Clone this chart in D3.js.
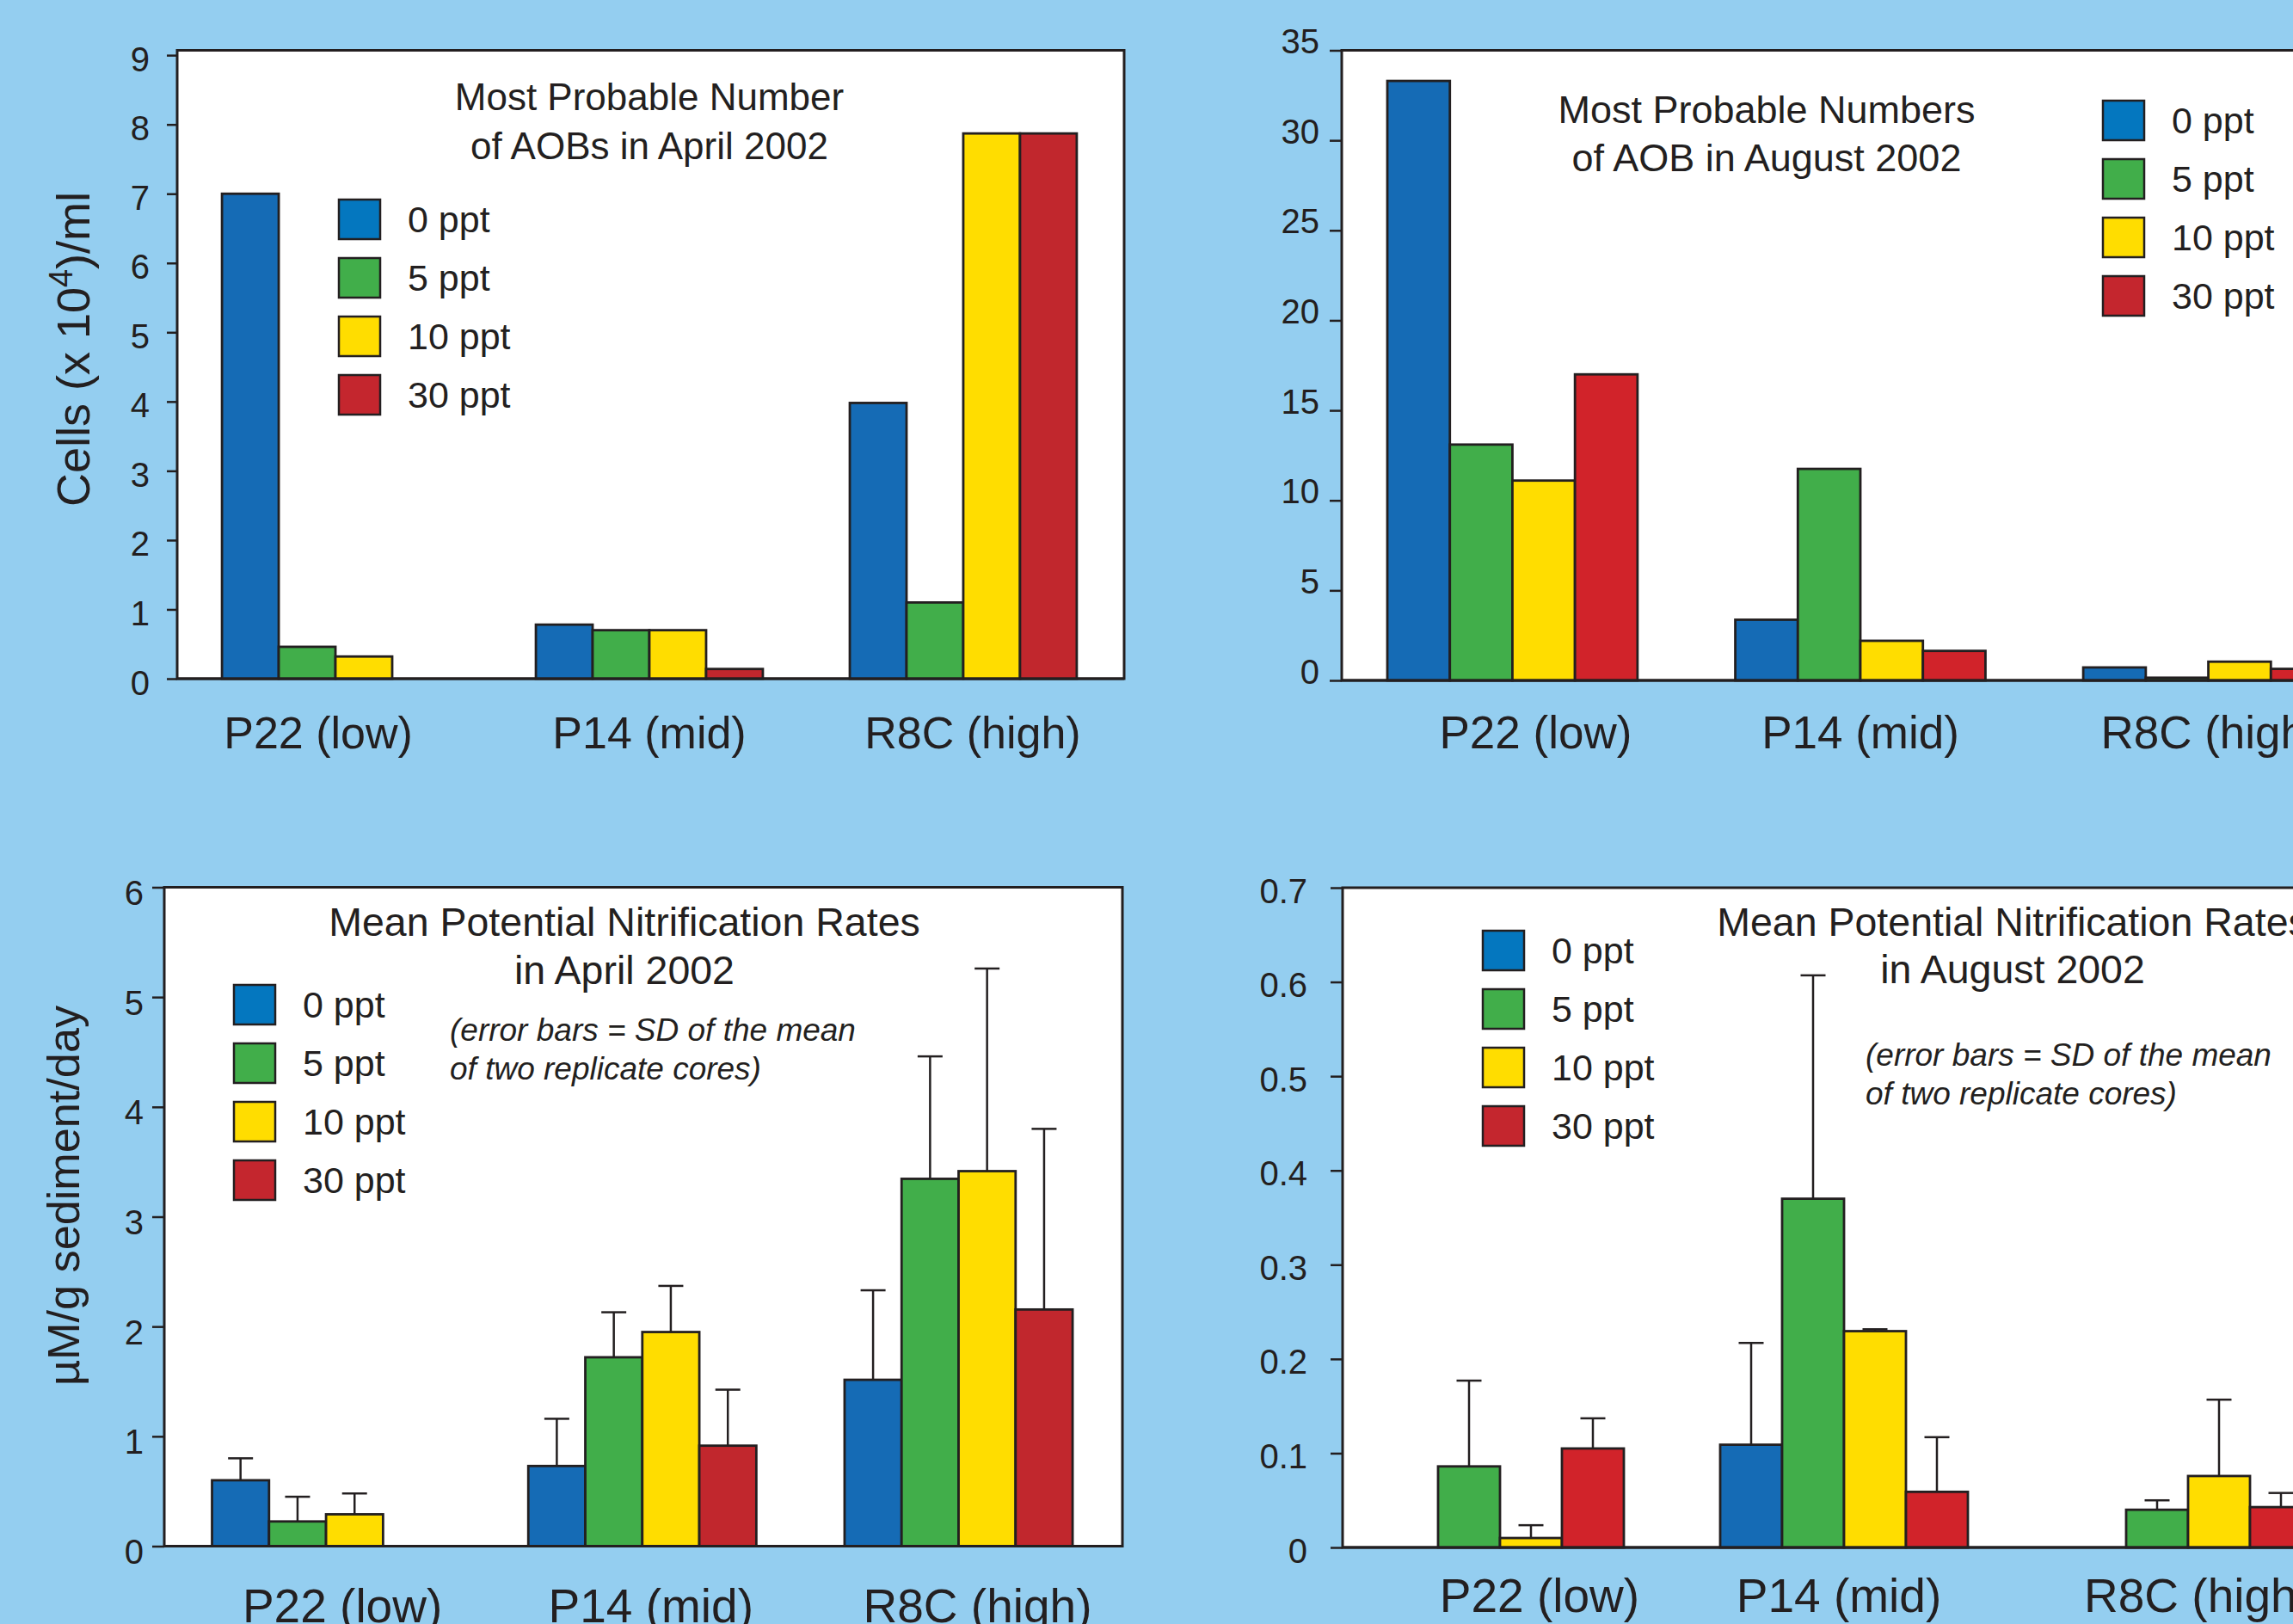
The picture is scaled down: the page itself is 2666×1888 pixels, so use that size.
<!DOCTYPE html>
<html><head><meta charset="utf-8">
<script src="https://cdn.jsdelivr.net/npm/d3@7"></script>
<style>html,body{margin:0;padding:0;background:#94CEF0;overflow:hidden} svg{display:block}</style>
</head><body>
<svg id="chart" width="2666" height="1888"></svg>
<script>
// ---------------- DATA ----------------
const categories = ["P22 (low)", "P14 (mid)", "R8C (high)"];
const salinities = ["0 ppt", "5 ppt", "10 ppt", "30 ppt"];
const aprilColors = ["#156BB5", "#41AE4A", "#FFDD00", "#C1272D"];
const augustColors = ["#156BB5", "#41AE4A", "#FFDD00", "#D1232A"];
const legendColors = ["#0477BF", "#41AE4A", "#FFDD00", "#C4262E"];

// rows = site (categories), columns = salinity (salinities); null = no bar
const mpnApril = [[7.0, 0.46, 0.32, null], [0.78, 0.70, 0.70, 0.14], [3.98, 1.10, 7.87, 7.87]];
const mpnAugust = [[33.3, 13.1, 11.1, 17.0], [3.37, 11.75, 2.2, 1.64], [0.72, 0.15, 1.04, 0.64]];
const rateApril = [[0.60, 0.225, 0.29, null], [0.73, 1.72, 1.95, 0.915], [1.515, 3.345, 3.415, 2.155]];
const rateAprilSD = [[0.20, 0.225, 0.19, null], [0.43, 0.41, 0.42, 0.51], [0.815, 1.115, 1.845, 1.645]];
const rateAugust = [[null, 0.086, 0.010, 0.105], [0.109, 0.370, 0.2295, 0.059], [null, 0.040, 0.0758, 0.0428]];
const rateAugustSD = [[null, 0.091, 0.0136, 0.032], [0.108, 0.237, 0.002, 0.058], [null, 0.010, 0.081, 0.015]];

const ticksMpnApril = [0, 1, 2, 3, 4, 5, 6, 7, 8, 9];
const tickLabelsMpnApril = ["0", "1", "2", "3", "4", "5", "6", "7", "8", "9"];
const ticksMpnAugust = [0, 5, 10, 15, 20, 25, 30, 35];
const tickLabelsMpnAugust = ["0", "5", "10", "15", "20", "25", "30", "35"];
const ticksRateApril = [0, 1, 2, 3, 4, 5, 6];
const tickLabelsRateApril = ["0", "1", "2", "3", "4", "5", "6"];
const ticksRateAugust = [0, 0.1, 0.2, 0.3, 0.4, 0.5, 0.6, 0.7];
const tickLabelsRateAugust = ["0", "0.1", "0.2", "0.3", "0.4", "0.5", "0.6", "0.7"];

const titleMpnApril = ["Most Probable Number", "of AOBs in April 2002"];
const titleMpnAugust = ["Most Probable Numbers", "of AOB in August 2002"];
const titleRateApril = ["Mean Potential Nitrification Rates", "in April 2002"];
const titleRateAugust = ["Mean Potential Nitrification Rates", "in August 2002"];
const noteLines = ["(error bars = SD of the mean", "of two replicate cores)"];
const yTitleMpn = ["Cells (x 10", "4", ")/ml"];
const yTitleRate = "µM/g sediment/day";

// ---------------- LAYOUT ----------------
const FONT = "'Liberation Sans', Arial, Helvetica, sans-serif";
const INK = "#231F20";
const svg = d3.select("#chart");
svg.append("rect").attr("width", 2666).attr("height", 1888).attr("fill", "#94CEF0");

const panels = [
  { values: mpnApril, sd: null, colors: aprilColors, ticks: ticksMpnApril, tickLabels: tickLabelsMpnApril, title: titleMpnApril,
    yMax: 9.07, yBottom: 789, yTop: 58.5, boxLeft: 206, boxRight: 1307,
    xRange: [207, 1303], padIn: 0.277, padOut: 0.14,
    tickLen: 12, tickPad: 20, tickDy: 18, labelY: 870, labelSize: 52, labelDx: [-20, 0, 11],
    titleX: 755, titleY: [128, 185], titleSize: 44, legX: 394, legY: 255, note: null },
  { values: mpnAugust, sd: null, colors: augustColors, ticks: ticksMpnAugust, tickLabels: tickLabelsMpnAugust, title: titleMpnAugust,
    yMax: 35, yBottom: 791, yTop: 58.5, boxLeft: 1560, boxRight: 2800,
    xRange: [1560, 2766], padIn: 0.281, padOut: 0.131,
    tickLen: 14, tickPad: 12, tickDy: 3, labelY: 870, labelSize: 53, labelDx: [27, 0, 3],
    titleX: 2054, titleY: [143, 199], titleSize: 45, legX: 2445, legY: 140, note: null },
  { values: rateApril, sd: rateAprilSD, colors: aprilColors, ticks: ticksRateApril, tickLabels: tickLabelsRateApril, title: titleRateApril,
    yMax: 6, yBottom: 1797.5, yTop: 1031.5, boxLeft: 191, boxRight: 1305,
    xRange: [191, 1302.6], padIn: 0.279, padOut: 0.151,
    tickLen: 14, tickPad: 10, tickDy: 20, labelY: 1886, labelSize: 55, labelDx: [19, 10, 22],
    titleX: 726, titleY: [1088, 1144], titleSize: 46.5, legX: 272, legY: 1168, note: [523, 1210, 1255] },
  { values: rateAugust, sd: rateAugustSD, colors: augustColors, ticks: ticksRateAugust, tickLabels: tickLabelsRateAugust, title: titleRateAugust,
    yMax: 0.7, yBottom: 1799, yTop: 1032, boxLeft: 1561, boxRight: 2800,
    xRange: [1561, 2727], padIn: 0.28, padOut: 0.0975,
    tickLen: 14, tickPad: 27, tickDy: 17, labelY: 1874, labelSize: 55, labelDx: [46, -6, 12],
    titleX: 2340, titleY: [1088, 1143], titleSize: 46.5, legX: 1724, legY: 1105, note: [2169, 1239, 1284] }
];

panels.forEach(p => {
  const g = svg.append("g");
  const y = d3.scaleLinear().domain([0, p.yMax]).range([p.yBottom, p.yTop]);
  const x0 = d3.scaleBand().domain(categories).range(p.xRange).paddingInner(p.padIn).paddingOuter(p.padOut);
  const x1 = d3.scaleBand().domain(salinities).range([0, x0.bandwidth()]);

  // plot box
  g.append("rect")
    .attr("x", p.boxLeft).attr("y", y(p.yMax))
    .attr("width", p.boxRight - p.boxLeft).attr("height", y(0) - y(p.yMax))
    .attr("fill", "#fff").attr("stroke", INK).attr("stroke-width", 3);

  // y axis ticks
  const ya = g.append("g").attr("transform", `translate(${p.boxLeft},0)`)
    .call(d3.axisLeft(y).tickValues(p.ticks).tickSize(p.tickLen).tickPadding(p.tickPad)
      .tickFormat((d, i) => p.tickLabels[i]));
  ya.select(".domain").remove();
  ya.selectAll("line").attr("stroke", INK).attr("stroke-width", 2.5);
  ya.selectAll("text").attr("font-family", FONT).attr("font-size", 40).attr("fill", INK).attr("dy", p.tickDy);

  // bars
  const cells = [];
  p.values.forEach((row, i) => row.forEach((v, j) => {
    if (v !== null) cells.push({ cat: categories[i], s: salinities[j], j, v, sd: p.sd ? p.sd[i][j] : null });
  }));
  g.append("g").selectAll("rect").data(cells).join("rect")
    .attr("x", d => x0(d.cat) + x1(d.s))
    .attr("y", d => y(d.v))
    .attr("width", x1.bandwidth())
    .attr("height", d => y(0) - y(d.v))
    .attr("fill", d => p.colors[d.j])
    .attr("stroke", INK).attr("stroke-width", 2.8);

  // error bars
  if (p.sd) {
    const eb = g.append("g").attr("stroke", INK).attr("stroke-width", 2.5);
    cells.filter(d => d.sd !== null).forEach(d => {
      const cx = x0(d.cat) + x1(d.s) + x1.bandwidth() / 2;
      eb.append("line").attr("x1", cx).attr("x2", cx).attr("y1", y(d.v)).attr("y2", y(d.v + d.sd));
      eb.append("line").attr("x1", cx - 14.5).attr("x2", cx + 14.5).attr("y1", y(d.v + d.sd)).attr("y2", y(d.v + d.sd));
    });
  }

  // bottom axis line (on top of bars)
  g.append("line").attr("x1", p.boxLeft).attr("x2", p.boxRight).attr("y1", y(0)).attr("y2", y(0))
    .attr("stroke", INK).attr("stroke-width", 3);

  // x category labels
  const xa = g.append("g").attr("transform", `translate(0,${p.labelY})`)
    .call(d3.axisBottom(x0).tickSize(0));
  xa.select(".domain").remove();
  xa.selectAll("text").attr("y", 0).attr("dy", 0)
    .attr("dx", (d, i) => p.labelDx[i])
    .attr("font-family", FONT).attr("font-size", p.labelSize).attr("fill", INK);

  // title
  g.append("g").selectAll("text").data(p.title).join("text")
    .attr("x", p.titleX).attr("y", (d, i) => p.titleY[i])
    .attr("text-anchor", "middle").attr("font-family", FONT).attr("font-size", p.titleSize).attr("fill", INK)
    .text(d => d);

  // note
  if (p.note) {
    g.append("g").selectAll("text").data(noteLines).join("text")
      .attr("x", p.note[0]).attr("y", (d, i) => p.note[1 + i])
      .attr("font-family", FONT).attr("font-style", "italic").attr("font-size", 37).attr("fill", INK)
      .text(d => d);
  }

  // legend
  const lg = g.append("g");
  salinities.forEach((s, i) => {
    const cy = p.legY + i * 68;
    lg.append("rect").attr("x", p.legX).attr("y", cy - 23).attr("width", 48).attr("height", 46)
      .attr("fill", legendColors[i]).attr("stroke", INK).attr("stroke-width", 2.5);
    lg.append("text").attr("x", p.legX + 80).attr("y", cy + 15)
      .attr("font-family", FONT).attr("font-size", 43).attr("fill", INK).text(s);
  });
});

// y axis titles
const t1 = svg.append("text").attr("transform", "translate(104,406) rotate(-90)")
  .attr("text-anchor", "middle").attr("font-family", FONT).attr("font-size", 54).attr("fill", INK);
t1.append("tspan").text(yTitleMpn[0]);
t1.append("tspan").attr("font-size", 38).attr("dy", -20).text(yTitleMpn[1]);
t1.append("tspan").attr("dy", 20).text(yTitleMpn[2]);

svg.append("text").attr("transform", "translate(92,1390) rotate(-90)")
  .attr("text-anchor", "middle").attr("font-family", FONT).attr("font-size", 52).attr("fill", INK)
  .attr("textLength", 442).attr("lengthAdjust", "spacingAndGlyphs")
  .text(yTitleRate);
</script>
</body></html>
